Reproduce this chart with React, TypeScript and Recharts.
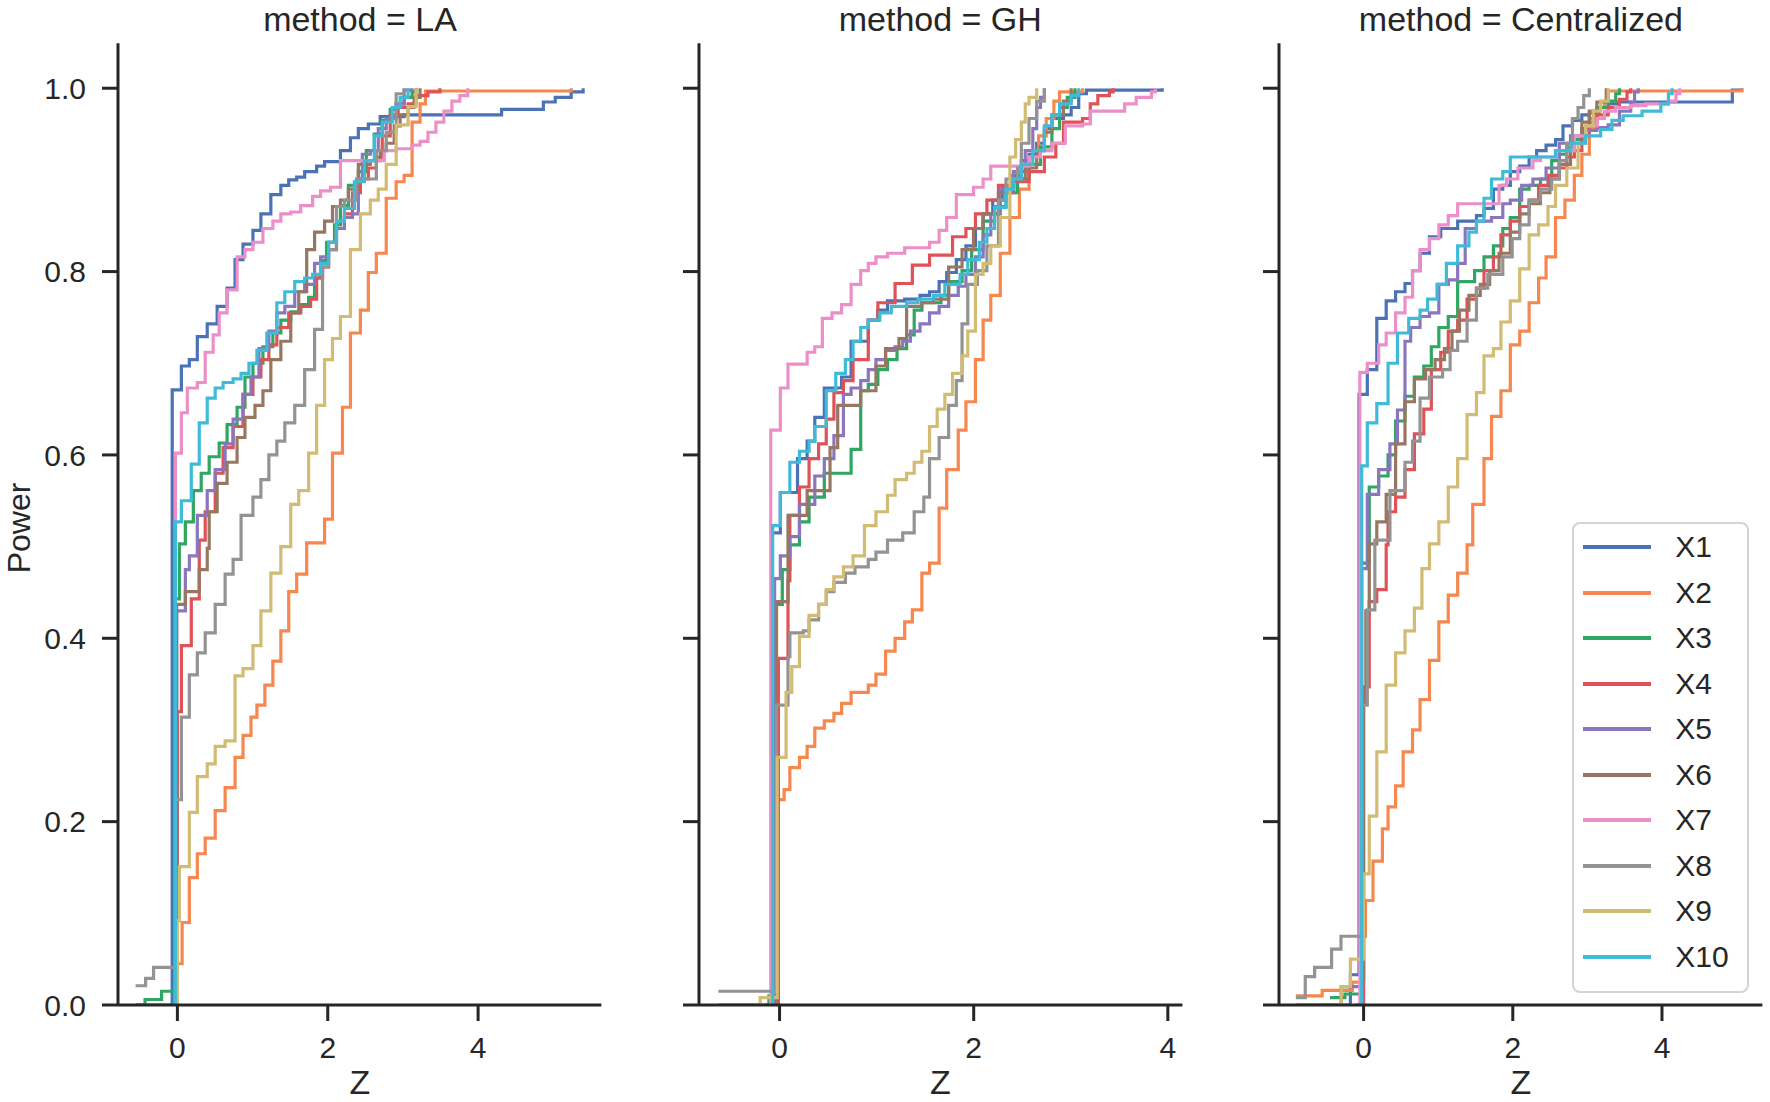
import React from 'react';
import { LineChart, Line, XAxis, YAxis, Legend } from 'recharts';

// ECDF step points: [Z, Power]
const LA_X1 = [[-0.55, 0], [-0.069, 0.671], [0.053, 0.697], [0.159, 0.704], [0.265, 0.729], [0.397, 0.743], [0.529, 0.762], [0.661, 0.782], [0.767, 0.813], [0.873, 0.83], [1.005, 0.845], [1.111, 0.863], [1.243, 0.884], [1.376, 0.894], [1.481, 0.9], [1.587, 0.903], [1.693, 0.909], [1.852, 0.915], [1.958, 0.92], [2.169, 0.932], [2.302, 0.946], [2.407, 0.956], [2.54, 0.961], [2.698, 0.969], [3.016, 0.971], [4.312, 0.977], [4.868, 0.985], [5.026, 0.99], [5.238, 0.996], [5.397, 1]];
const LA_X2 = [[-0.05, 0], [-0.026, 0.045], [0.063, 0.09], [0.159, 0.139], [0.265, 0.165], [0.37, 0.182], [0.503, 0.212], [0.635, 0.237], [0.767, 0.27], [0.873, 0.294], [0.979, 0.314], [1.058, 0.327], [1.164, 0.349], [1.27, 0.375], [1.376, 0.408], [1.481, 0.451], [1.587, 0.47], [1.72, 0.504], [1.958, 0.53], [2.063, 0.602], [2.196, 0.652], [2.302, 0.733], [2.434, 0.758], [2.54, 0.799], [2.646, 0.82], [2.778, 0.88], [2.91, 0.898], [3.016, 0.905], [3.122, 0.963], [3.228, 0.983], [3.3, 0.997], [5.238, 1]];
const LA_X3 = [[-0.55, 0], [-0.43, 0.006], [-0.21, 0.015], [-0.03, 0.443], [0.026, 0.503], [0.106, 0.527], [0.212, 0.561], [0.317, 0.58], [0.423, 0.598], [0.556, 0.613], [0.661, 0.633], [0.794, 0.652], [0.899, 0.685], [1.005, 0.7], [1.138, 0.718], [1.27, 0.733], [1.376, 0.747], [1.508, 0.756], [1.64, 0.764], [1.746, 0.772], [1.825, 0.793], [1.905, 0.812], [1.984, 0.832], [2.09, 0.851], [2.169, 0.872], [2.275, 0.894], [2.407, 0.909], [2.513, 0.932], [2.619, 0.95], [2.725, 0.965], [2.831, 0.977], [2.91, 0.983], [3.016, 0.99], [3.122, 0.996], [3.175, 1]];
const LA_X4 = [[-0.04, 0], [0, 0.32], [0.053, 0.392], [0.185, 0.443], [0.291, 0.507], [0.37, 0.538], [0.503, 0.58], [0.608, 0.608], [0.741, 0.631], [0.873, 0.666], [1.005, 0.685], [1.111, 0.704], [1.217, 0.72], [1.323, 0.739], [1.481, 0.755], [1.64, 0.762], [1.772, 0.77], [1.852, 0.793], [1.931, 0.805], [2.011, 0.824], [2.116, 0.847], [2.222, 0.863], [2.328, 0.886], [2.434, 0.901], [2.54, 0.913], [2.646, 0.925], [2.725, 0.948], [2.831, 0.971], [2.937, 0.979], [3.069, 0.983], [3.175, 0.992], [3.333, 0.996], [3.492, 1]];
const LA_X5 = [[-0.05, 0], [-0.01, 0.43], [0.106, 0.475], [0.159, 0.49], [0.265, 0.534], [0.397, 0.561], [0.503, 0.584], [0.635, 0.612], [0.741, 0.639], [0.873, 0.666], [0.979, 0.685], [1.085, 0.716], [1.217, 0.735], [1.323, 0.755], [1.429, 0.762], [1.561, 0.778], [1.693, 0.786], [1.825, 0.809], [1.905, 0.816], [2.011, 0.832], [2.116, 0.847], [2.222, 0.859], [2.328, 0.863], [2.407, 0.901], [2.46, 0.928], [2.566, 0.932], [2.672, 0.956], [2.778, 0.967], [2.91, 0.983], [3.016, 0.998], [3.122, 1]];
const LA_X6 = [[-0.05, 0], [-0.01, 0.437], [0.106, 0.451], [0.291, 0.475], [0.397, 0.498], [0.423, 0.538], [0.529, 0.569], [0.661, 0.592], [0.794, 0.619], [0.899, 0.641], [1.032, 0.654], [1.138, 0.67], [1.243, 0.704], [1.376, 0.724], [1.508, 0.755], [1.614, 0.778], [1.72, 0.824], [1.825, 0.843], [1.958, 0.855], [2.063, 0.871], [2.169, 0.878], [2.275, 0.89], [2.407, 0.917], [2.566, 0.921], [2.698, 0.932], [2.778, 0.94], [2.884, 0.959], [2.963, 0.971], [3.069, 0.979], [3.148, 0.99], [3.228, 1]];
const LA_X7 = [[-0.05, 0], [-0.026, 0.602], [0.053, 0.646], [0.132, 0.673], [0.265, 0.679], [0.37, 0.712], [0.476, 0.731], [0.556, 0.755], [0.661, 0.78], [0.794, 0.816], [0.899, 0.824], [1.005, 0.832], [1.138, 0.847], [1.27, 0.855], [1.376, 0.863], [1.508, 0.865], [1.64, 0.872], [1.799, 0.882], [1.905, 0.888], [2.037, 0.892], [2.169, 0.921], [2.751, 0.932], [2.91, 0.934], [3.122, 0.938], [3.228, 0.942], [3.333, 0.952], [3.439, 0.963], [3.545, 0.975], [3.651, 0.986], [3.757, 0.992], [3.862, 1]];
const LA_X8 = [[-0.556, 0.021], [-0.423, 0.029], [-0.317, 0.041], [-0.026, 0.224], [0.053, 0.314], [0.159, 0.36], [0.265, 0.384], [0.37, 0.406], [0.503, 0.437], [0.635, 0.47], [0.741, 0.486], [0.847, 0.534], [1.005, 0.554], [1.111, 0.573], [1.217, 0.6], [1.323, 0.615], [1.429, 0.635], [1.561, 0.654], [1.693, 0.693], [1.825, 0.737], [1.931, 0.805], [2.011, 0.824], [2.116, 0.871], [2.222, 0.878], [2.381, 0.901], [2.646, 0.932], [2.778, 0.952], [2.91, 0.994], [3.016, 1]];
const LA_X9 = [[-0.05, 0], [0, 0.092], [0.026, 0.151], [0.159, 0.21], [0.265, 0.249], [0.397, 0.263], [0.503, 0.282], [0.635, 0.288], [0.767, 0.359], [0.873, 0.367], [1.005, 0.392], [1.111, 0.43], [1.243, 0.471], [1.376, 0.5], [1.508, 0.546], [1.614, 0.561], [1.746, 0.602], [1.852, 0.654], [1.958, 0.704], [2.063, 0.727], [2.169, 0.751], [2.302, 0.824], [2.434, 0.863], [2.566, 0.878], [2.672, 0.89], [2.778, 0.917], [2.91, 0.96], [3.069, 0.98], [3.175, 1]];
const LA_X10 = [[-0.05, 0], [-0.026, 0.527], [0.053, 0.55], [0.185, 0.59], [0.291, 0.635], [0.397, 0.662], [0.503, 0.673], [0.608, 0.679], [0.741, 0.683], [0.847, 0.689], [0.952, 0.7], [1.058, 0.714], [1.19, 0.733], [1.323, 0.766], [1.429, 0.778], [1.561, 0.789], [1.693, 0.793], [1.799, 0.797], [1.905, 0.809], [2.011, 0.832], [2.116, 0.855], [2.222, 0.869], [2.354, 0.898], [2.487, 0.921], [2.619, 0.948], [2.725, 0.963], [2.857, 0.979], [2.963, 0.99], [3.069, 1]];

const GH_X1 = [[-0.63, 0], [-0.079, 0.515], [0.008, 0.559], [0.185, 0.596], [0.284, 0.615], [0.363, 0.641], [0.461, 0.673], [0.639, 0.685], [0.737, 0.724], [0.914, 0.747], [1.013, 0.758], [1.112, 0.768], [1.289, 0.77], [1.447, 0.774], [1.545, 0.778], [1.644, 0.789], [1.722, 0.799], [1.821, 0.813], [1.92, 0.828], [2.018, 0.847], [2.097, 0.863], [2.196, 0.878], [2.294, 0.892], [2.393, 0.905], [2.491, 0.921], [2.57, 0.928], [2.649, 0.94], [2.728, 0.956], [2.806, 0.967], [2.925, 0.971], [3.004, 0.979], [3.082, 0.994], [3.161, 0.998], [3.942, 1]];
const GH_X2 = [[-0.05, 0], [-0.024, 0.224], [0.047, 0.235], [0.106, 0.259], [0.205, 0.27], [0.284, 0.282], [0.363, 0.302], [0.461, 0.31], [0.56, 0.318], [0.639, 0.329], [0.737, 0.341], [0.914, 0.349], [0.993, 0.361], [1.092, 0.386], [1.19, 0.4], [1.289, 0.418], [1.368, 0.431], [1.466, 0.471], [1.545, 0.482], [1.644, 0.542], [1.722, 0.584], [1.841, 0.627], [1.92, 0.658], [2.018, 0.704], [2.097, 0.747], [2.176, 0.774], [2.274, 0.82], [2.373, 0.859], [2.471, 0.89], [2.57, 0.925], [2.669, 0.948], [2.747, 0.967], [2.826, 0.986], [2.885, 0.996], [3.122, 1]];
const GH_X3 = [[-0.15, 0], [-0.11, 0.01], [-0.032, 0.437], [0.028, 0.475], [0.106, 0.502], [0.205, 0.527], [0.304, 0.554], [0.461, 0.58], [0.737, 0.606], [0.836, 0.67], [0.914, 0.677], [1.013, 0.693], [1.112, 0.704], [1.21, 0.716], [1.309, 0.731], [1.387, 0.758], [1.466, 0.766], [1.663, 0.774], [1.742, 0.789], [1.88, 0.801], [1.979, 0.824], [2.097, 0.855], [2.215, 0.871], [2.333, 0.886], [2.452, 0.901], [2.57, 0.917], [2.688, 0.936], [2.806, 0.956], [2.885, 0.979], [2.964, 0.99], [3.043, 1]];
const GH_X4 = [[-0.05, 0], [-0.012, 0.378], [0.087, 0.463], [0.106, 0.534], [0.205, 0.565], [0.304, 0.596], [0.402, 0.612], [0.481, 0.639], [0.56, 0.668], [0.658, 0.681], [0.757, 0.704], [0.914, 0.747], [1.013, 0.766], [1.19, 0.787], [1.368, 0.807], [1.545, 0.818], [1.782, 0.838], [1.92, 0.847], [2.018, 0.863], [2.136, 0.878], [2.255, 0.894], [2.412, 0.898], [2.57, 0.909], [2.728, 0.925], [2.846, 0.94], [2.925, 0.963], [3.122, 0.967], [3.201, 0.983], [3.279, 0.992], [3.398, 0.996], [3.437, 1]];
const GH_X5 = [[-0.1, 0], [-0.051, 0.465], [0.008, 0.49], [0.106, 0.511], [0.205, 0.546], [0.363, 0.577], [0.461, 0.596], [0.56, 0.621], [0.658, 0.666], [0.737, 0.673], [0.836, 0.681], [0.914, 0.693], [0.993, 0.704], [1.092, 0.714], [1.19, 0.718], [1.269, 0.724], [1.348, 0.735], [1.447, 0.743], [1.545, 0.755], [1.644, 0.762], [1.742, 0.774], [1.841, 0.784], [1.92, 0.797], [2.018, 0.816], [2.097, 0.84], [2.176, 0.863], [2.274, 0.89], [2.412, 0.909], [2.531, 0.932], [2.609, 0.956], [2.649, 0.979], [2.688, 0.99], [2.728, 1]];
const GH_X6 = [[-0.1, 0], [-0.032, 0.44], [0.087, 0.534], [0.284, 0.561], [0.52, 0.608], [0.599, 0.654], [0.836, 0.67], [0.993, 0.697], [1.092, 0.716], [1.23, 0.727], [1.309, 0.762], [1.466, 0.766], [1.585, 0.77], [1.742, 0.805], [1.88, 0.824], [1.998, 0.847], [2.097, 0.863], [2.255, 0.886], [2.412, 0.901], [2.531, 0.913], [2.649, 0.932], [2.728, 0.952], [2.806, 0.971], [2.925, 0.986], [3.004, 1]];
const GH_X7 = [[-0.1, 0], [-0.091, 0.627], [0.008, 0.673], [0.087, 0.699], [0.284, 0.712], [0.363, 0.718], [0.441, 0.749], [0.54, 0.755], [0.639, 0.764], [0.737, 0.786], [0.836, 0.801], [0.914, 0.809], [0.993, 0.816], [1.112, 0.82], [1.289, 0.826], [1.545, 0.832], [1.644, 0.845], [1.722, 0.859], [1.821, 0.884], [1.998, 0.892], [2.097, 0.901], [2.176, 0.915], [2.57, 0.925], [2.688, 0.932], [2.806, 0.94], [2.944, 0.959], [3.122, 0.961], [3.201, 0.975], [3.555, 0.983], [3.674, 0.99], [3.831, 0.996], [3.871, 1]];
const GH_X8 = [[-0.631, 0.015], [-0.032, 0.327], [0.087, 0.38], [0.106, 0.406], [0.244, 0.408], [0.304, 0.42], [0.402, 0.437], [0.481, 0.451], [0.56, 0.461], [0.678, 0.471], [0.777, 0.478], [0.914, 0.486], [0.993, 0.494], [1.112, 0.507], [1.269, 0.515], [1.387, 0.538], [1.486, 0.554], [1.545, 0.596], [1.644, 0.619], [1.742, 0.654], [1.821, 0.681], [1.88, 0.743], [1.939, 0.786], [2.038, 0.801], [2.136, 0.828], [2.255, 0.878], [2.333, 0.901], [2.452, 0.913], [2.491, 0.94], [2.57, 0.967], [2.649, 0.986], [2.728, 1]];
const GH_X9 = [[-0.27, 0], [-0.2, 0.008], [-0.024, 0.27], [0.067, 0.341], [0.126, 0.369], [0.205, 0.402], [0.304, 0.425], [0.402, 0.437], [0.481, 0.453], [0.56, 0.467], [0.658, 0.478], [0.757, 0.49], [0.875, 0.523], [0.993, 0.538], [1.112, 0.556], [1.19, 0.573], [1.309, 0.58], [1.387, 0.592], [1.466, 0.604], [1.545, 0.631], [1.624, 0.65], [1.703, 0.666], [1.782, 0.689], [1.88, 0.708], [1.939, 0.735], [2.018, 0.797], [2.097, 0.809], [2.176, 0.828], [2.274, 0.859], [2.373, 0.925], [2.432, 0.944], [2.491, 0.963], [2.531, 0.983], [2.57, 0.99], [2.649, 1]];
const GH_X10 = [[-0.1, 0], [-0.071, 0.523], [0.008, 0.559], [0.106, 0.592], [0.205, 0.604], [0.304, 0.615], [0.363, 0.631], [0.481, 0.67], [0.579, 0.689], [0.678, 0.704], [0.757, 0.724], [0.836, 0.739], [0.914, 0.747], [1.033, 0.755], [1.151, 0.762], [1.309, 0.766], [1.427, 0.77], [1.585, 0.774], [1.703, 0.786], [1.86, 0.797], [1.939, 0.813], [2.058, 0.832], [2.136, 0.847], [2.215, 0.87], [2.333, 0.89], [2.412, 0.901], [2.491, 0.917], [2.609, 0.932], [2.728, 0.959], [2.806, 0.971], [2.885, 0.983], [3.004, 0.992], [3.082, 1]];

const CE_X1 = [[-0.908, 0], [-0.177, 0.033], [-0.061, 0.666], [0.05, 0.693], [0.177, 0.749], [0.303, 0.768], [0.429, 0.778], [0.555, 0.787], [0.656, 0.801], [0.757, 0.82], [0.883, 0.838], [1.034, 0.847], [1.261, 0.855], [1.513, 0.861], [1.614, 0.869], [1.74, 0.89], [1.866, 0.894], [1.967, 0.909], [2.093, 0.915], [2.219, 0.925], [2.32, 0.932], [2.446, 0.938], [2.573, 0.944], [2.673, 0.959], [2.8, 0.965], [2.926, 0.971], [3.026, 0.973], [3.153, 0.979], [3.279, 0.983], [3.405, 0.985], [4.943, 0.998], [5.069, 1]];
const CE_X2 = [[-0.908, 0.01], [-0.555, 0.016], [-0.151, 0.025], [0, 0.075], [0.025, 0.114], [0.126, 0.157], [0.252, 0.192], [0.328, 0.216], [0.429, 0.239], [0.53, 0.276], [0.656, 0.3], [0.757, 0.333], [0.883, 0.376], [1.009, 0.418], [1.135, 0.447], [1.261, 0.471], [1.387, 0.502], [1.463, 0.546], [1.614, 0.596], [1.715, 0.642], [1.841, 0.67], [1.967, 0.72], [2.093, 0.735], [2.219, 0.766], [2.346, 0.793], [2.446, 0.816], [2.573, 0.859], [2.699, 0.878], [2.825, 0.905], [2.926, 0.928], [3.026, 0.956], [3.127, 0.979], [3.228, 0.986], [3.279, 0.997], [5.069, 1]];
const CE_X3 = [[-0.45, 0.008], [-0.25, 0.012], [-0.04, 0.482], [0.076, 0.565], [0.202, 0.577], [0.328, 0.6], [0.429, 0.637], [0.555, 0.664], [0.681, 0.685], [0.807, 0.697], [0.908, 0.718], [1.009, 0.739], [1.135, 0.751], [1.261, 0.789], [1.488, 0.801], [1.614, 0.816], [1.74, 0.828], [1.866, 0.847], [1.967, 0.859], [2.093, 0.89], [2.219, 0.894], [2.371, 0.901], [2.522, 0.921], [2.623, 0.928], [2.724, 0.936], [2.825, 0.944], [2.926, 0.956], [3.026, 0.967], [3.127, 0.979], [3.279, 0.986], [3.38, 0.994], [3.43, 1]];
const CE_X4 = [[-0.1, 0], [0, 0.347], [0.076, 0.44], [0.177, 0.453], [0.303, 0.502], [0.328, 0.538], [0.429, 0.554], [0.555, 0.584], [0.681, 0.623], [0.807, 0.65], [0.908, 0.693], [1.034, 0.712], [1.135, 0.735], [1.261, 0.747], [1.387, 0.77], [1.513, 0.782], [1.614, 0.801], [1.74, 0.816], [1.841, 0.84], [1.967, 0.855], [2.093, 0.871], [2.219, 0.878], [2.346, 0.894], [2.472, 0.905], [2.623, 0.913], [2.724, 0.925], [2.825, 0.932], [2.926, 0.948], [3.026, 0.963], [3.127, 0.971], [3.279, 0.979], [3.43, 0.988], [3.531, 0.996], [3.581, 1]];
const CE_X5 = [[-0.6, 0], [-0.3, 0.02], [-0.025, 0.476], [0.05, 0.557], [0.202, 0.584], [0.353, 0.612], [0.454, 0.649], [0.555, 0.724], [0.631, 0.739], [0.757, 0.751], [0.883, 0.755], [1.009, 0.786], [1.135, 0.791], [1.261, 0.809], [1.362, 0.847], [1.513, 0.855], [1.715, 0.859], [1.866, 0.874], [1.967, 0.878], [2.119, 0.894], [2.27, 0.901], [2.446, 0.913], [2.623, 0.94], [2.774, 0.948], [2.951, 0.954], [3.127, 0.957], [3.279, 0.96], [3.43, 0.975], [3.581, 0.985], [3.632, 0.996], [3.682, 1]];
const CE_X6 = [[-0.08, 0], [-0.02, 0.027], [0, 0.33], [0.03, 0.43], [0.076, 0.503], [0.177, 0.527], [0.303, 0.557], [0.429, 0.612], [0.555, 0.658], [0.681, 0.683], [0.832, 0.693], [0.958, 0.704], [1.084, 0.716], [1.185, 0.735], [1.286, 0.758], [1.412, 0.774], [1.564, 0.786], [1.69, 0.801], [1.816, 0.82], [1.967, 0.843], [2.093, 0.863], [2.219, 0.874], [2.371, 0.886], [2.497, 0.901], [2.623, 0.917], [2.774, 0.94], [2.926, 0.963], [3.026, 0.975], [3.127, 0.985], [3.253, 1]];
const CE_X7 = [[-0.1, 0], [-0.05, 0.69], [0.05, 0.7], [0.202, 0.72], [0.303, 0.733], [0.429, 0.755], [0.555, 0.772], [0.656, 0.801], [0.757, 0.824], [0.883, 0.836], [1.009, 0.851], [1.135, 0.861], [1.261, 0.874], [1.816, 0.894], [1.917, 0.901], [2.068, 0.913], [2.27, 0.921], [2.371, 0.925], [2.573, 0.932], [2.825, 0.948], [2.976, 0.959], [3.127, 0.967], [3.228, 0.975], [3.38, 0.979], [3.581, 0.981], [3.783, 0.983], [4.086, 0.986], [4.187, 0.994], [4.237, 1]];
const CE_X8 = [[-0.908, 0.008], [-0.782, 0.031], [-0.656, 0.041], [-0.429, 0.061], [-0.303, 0.075], [-0.025, 0.327], [0.05, 0.431], [0.151, 0.507], [0.353, 0.561], [0.555, 0.592], [0.656, 0.615], [0.757, 0.662], [0.883, 0.685], [1.059, 0.693], [1.16, 0.714], [1.261, 0.724], [1.387, 0.747], [1.513, 0.782], [1.665, 0.797], [1.866, 0.816], [1.992, 0.836], [2.093, 0.851], [2.219, 0.878], [2.371, 0.89], [2.522, 0.901], [2.623, 0.921], [2.724, 0.94], [2.8, 0.967], [2.875, 0.979], [2.951, 0.992], [3.026, 1]];
const CE_X9 = [[-0.6, 0], [-0.3, 0.02], [-0.177, 0.05], [0, 0.143], [0.076, 0.206], [0.177, 0.276], [0.303, 0.349], [0.429, 0.384], [0.555, 0.408], [0.681, 0.433], [0.782, 0.476], [0.883, 0.503], [1.009, 0.527], [1.135, 0.565], [1.261, 0.596], [1.387, 0.644], [1.513, 0.668], [1.614, 0.708], [1.74, 0.716], [1.841, 0.745], [1.967, 0.768], [2.093, 0.803], [2.219, 0.84], [2.346, 0.851], [2.472, 0.871], [2.573, 0.894], [2.724, 0.913], [2.875, 0.94], [2.976, 0.959], [3.077, 0.975], [3.178, 0.986], [3.279, 1]];
const CE_X10 = [[-0.1, 0], [-0.025, 0.588], [0.05, 0.635], [0.177, 0.656], [0.328, 0.7], [0.454, 0.733], [0.605, 0.749], [0.757, 0.758], [0.858, 0.77], [0.984, 0.786], [1.11, 0.809], [1.261, 0.828], [1.412, 0.843], [1.513, 0.855], [1.614, 0.88], [1.715, 0.901], [1.866, 0.909], [1.967, 0.925], [2.573, 0.932], [2.774, 0.94], [2.976, 0.948], [3.178, 0.955], [3.329, 0.965], [3.48, 0.97], [3.733, 0.975], [3.985, 0.983], [4.086, 0.994], [4.136, 1]];

const SERIES_NAMES = ['X1', 'X2', 'X3', 'X4', 'X5', 'X6', 'X7', 'X8', 'X9', 'X10'];
const COLORS = ['#4a72b5', '#f5874f', '#2fa661', '#df5257', '#8a76bd', '#987762', '#ec8fc9', '#939393', '#d2bb72', '#3fbbd8'];
const Y_TICKS = [0, 0.2, 0.4, 0.6, 0.8, 1.0];
const X_TICKS = [0, 2, 4];

const PANELS = [
  { title: 'method = LA', left: 118.3, right: 601.7, domain: [-0.79, 5.64], data: [LA_X1, LA_X2, LA_X3, LA_X4, LA_X5, LA_X6, LA_X7, LA_X8, LA_X9, LA_X10] },
  { title: 'method = GH', left: 698.6, right: 1182, domain: [-0.83, 4.15], data: [GH_X1, GH_X2, GH_X3, GH_X4, GH_X5, GH_X6, GH_X7, GH_X8, GH_X9, GH_X10] },
  { title: 'method = Centralized', left: 1279.2, right: 1762.6, domain: [-1.134, 5.346], data: [CE_X1, CE_X2, CE_X3, CE_X4, CE_X5, CE_X6, CE_X7, CE_X8, CE_X9, CE_X10] },
];

const FONT = "'Liberation Sans', Arial, Helvetica, sans-serif";
const INK = '#262626';
const W = 1770;
const H = 1102;
const AXIS_W = 120;
const PLOT_TOP = 43.3;
const PLOT_BOTTOM = 1005;
const XAXIS_H = 60;

const toPoints = (pairs: number[][]) => pairs.map(([x, y]) => ({ x, y }));

function LegendBox(props: any) {
  const payload = [...(props.payload || [])].sort(
    (a: any, b: any) => SERIES_NAMES.indexOf(a.value) - SERIES_NAMES.indexOf(b.value)
  );
  return (
    <div
      style={{
        boxSizing: 'border-box',
        width: 177,
        height: 471,
        border: '2px solid #d4d4d4',
        borderRadius: 8,
        background: 'rgba(255,255,255,0.85)',
        paddingTop: 1,
      }}
    >
      {payload.map((entry: any) => (
        <div key={entry.value} style={{ display: 'flex', alignItems: 'center', height: 45.5 }}>
          <div style={{ marginLeft: 9.6, width: 68, height: 4, background: entry.color }} />
          <span style={{ marginLeft: 24, fontSize: 30, lineHeight: '30px', fontFamily: FONT, color: INK }}>
            {entry.value}
          </span>
        </div>
      ))}
    </div>
  );
}

function Panel({ panel, index }: { panel: (typeof PANELS)[number]; index: number }) {
  const chartLeft = panel.left - AXIS_W;
  const width = panel.right - panel.left + AXIS_W + 6;
  const axisStyle = { stroke: INK, strokeWidth: 3 };
  const tickStyle = { fill: INK, fontSize: 30, fontFamily: FONT };
  return (
    <div style={{ position: 'absolute', left: chartLeft, top: 0 }}>
      <LineChart
        width={width}
        height={H}
        margin={{ top: PLOT_TOP, right: 6, bottom: H - PLOT_BOTTOM - XAXIS_H, left: 0 }}
      >
        <XAxis
          dataKey="x"
          type="number"
          domain={panel.domain}
          allowDataOverflow
          ticks={X_TICKS}
          height={XAXIS_H}
          tickSize={16}
          tickMargin={16}
          axisLine={axisStyle}
          tickLine={axisStyle}
          tick={tickStyle}
        />
        <YAxis
          type="number"
          domain={[0, 1.049]}
          allowDataOverflow
          ticks={Y_TICKS}
          width={AXIS_W}
          tickSize={16}
          tickMargin={16}
          axisLine={axisStyle}
          tickLine={axisStyle}
          tick={tickStyle}
          tickFormatter={(v: number) => (index === 0 ? v.toFixed(1) : '')}
        />
        {panel.data.map((pairs, i) => (
          <Line
            key={SERIES_NAMES[i]}
            data={toPoints(pairs)}
            dataKey="y"
            name={SERIES_NAMES[i]}
            type="stepAfter"
            stroke={COLORS[i]}
            strokeWidth={3.2}
            dot={false}
            activeDot={false}
            legendType="plainline"
            isAnimationActive={false}
          />
        ))}
        {index === 2 && (
          <Legend
            layout="vertical"
            align="center"
            verticalAlign="middle"
            content={LegendBox}
            wrapperStyle={{ left: 1571.7 - chartLeft, top: 521.7, width: 177, height: 471 }}
          />
        )}
      </LineChart>
    </div>
  );
}

export default function App() {
  return (
    <div style={{ position: 'absolute', left: 0, top: 0, width: W, height: H, overflow: 'hidden', background: '#fff' }}>
      {PANELS.map((p, i) => (
        <Panel key={p.title} panel={p} index={i} />
      ))}
      <svg width={W} height={H} style={{ position: 'absolute', left: 0, top: 0, pointerEvents: 'none' }}>
        {PANELS.map((p) => (
          <g key={p.title} fontFamily={FONT} fill={INK} fontSize={34} textAnchor="middle">
            <text x={(p.left + p.right) / 2} y={31}>{p.title}</text>
            <text x={(p.left + p.right) / 2} y={1094}>Z</text>
          </g>
        ))}
        <text
          x={30}
          y={528}
          transform="rotate(-90 30 528)"
          fontFamily={FONT}
          fill={INK}
          fontSize={32}
          textAnchor="middle"
        >
          Power
        </text>
      </svg>
    </div>
  );
}
